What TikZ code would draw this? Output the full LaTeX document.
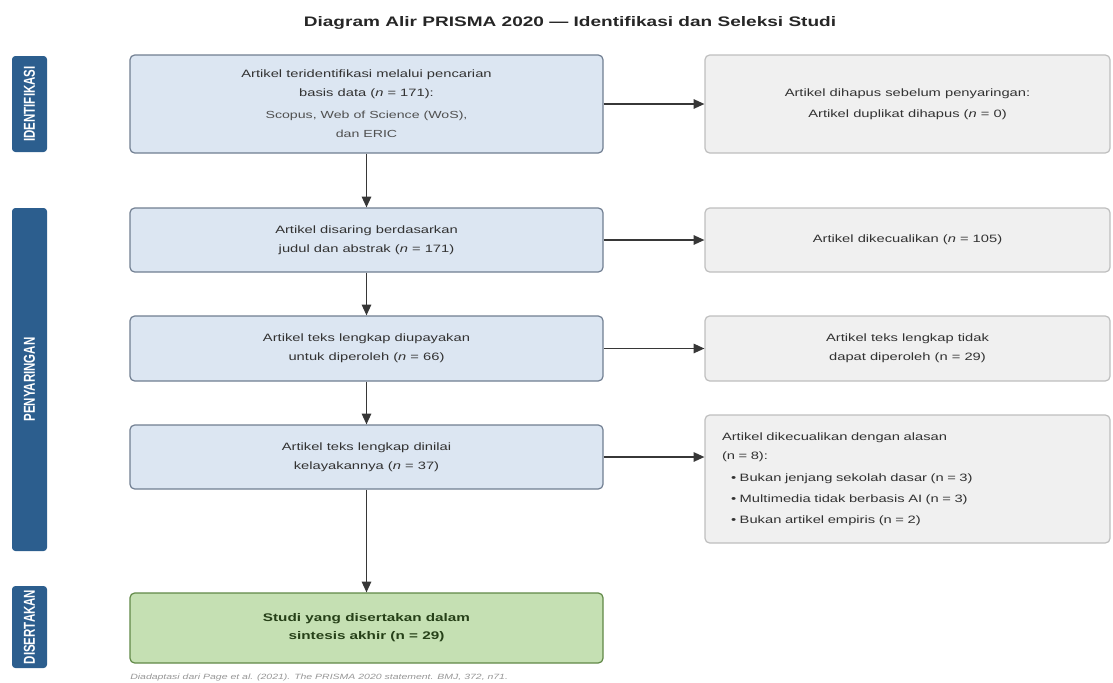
\documentclass[tikz,border=0pt]{standalone}
\usepackage{fontspec}
\setmainfont{Liberation Sans}[FakeStretch=1.38]
\newfontfamily\sidefont{Liberation Sans}
\usepackage{graphicx}
\usetikzlibrary{arrows.meta}
\definecolor{sidebl}{RGB}{44,94,142}
\definecolor{bluefill}{RGB}{220,230,242}
\definecolor{blueborder}{RGB}{112,126,145}
\definecolor{grayfill}{RGB}{240,240,240}
\definecolor{grayborder}{RGB}{190,190,190}
\definecolor{greenfill}{RGB}{197,224,179}
\definecolor{greenborder}{RGB}{96,136,70}
\definecolor{greentext}{RGB}{38,64,24}
\definecolor{txt}{RGB}{50,50,50}
\definecolor{txtgray}{RGB}{80,80,80}
\definecolor{arrcol}{RGB}{55,55,55}
\definecolor{captcol}{RGB}{150,150,150}
\newcommand{\smalltxt}{\fontsize{7.7}{12}\selectfont\color{txtgray}}
\begin{document}
\begin{tikzpicture}[x=0.75pt,y=-0.75pt,
  bluebox/.style={draw=blueborder, fill=bluefill, rounded corners=3.5pt, line width=0.9pt,
    align=center, inner sep=0pt, text=txt, font=\fontsize{8}{14.25}\selectfont},
  graybox/.style={draw=grayborder, fill=grayfill, rounded corners=3.5pt, line width=0.9pt,
    align=center, inner sep=0pt, text=txt, font=\fontsize{8}{14.25}\selectfont},
  greenbox/.style={draw=greenborder, fill=greenfill, rounded corners=3.5pt, line width=0.9pt,
    align=center, inner sep=0pt, text=greentext, font=\bfseries\fontsize{8.3}{13.5}\selectfont},
  sidebar/.style={fill=sidebl, rounded corners=2.5pt, inner sep=0pt, minimum width=26.25pt},
  sidetext/.style={rotate=90, text=white, inner sep=0pt, font=\sidefont\bfseries\fontsize{8.6}{10}\selectfont},
  arr/.style={draw=arrcol, line width=1.1pt, -{Triangle[length=8pt,width=7pt]}},
  wide/.style={minimum width=354.75pt},
  narrow/.style={minimum width=303.75pt}
]
\useasboundingbox (0,0) rectangle (1113,682);

% title
\node[font=\bfseries\fontsize{10.35}{12}\selectfont, text=black!85, inner sep=0pt] (title) at (570,23)
  {Diagram Alir PRISMA 2020 — Identifikasi dan Seleksi Studi};

% side bars
\node[sidebar, minimum height=72pt] (S1) at (29.5,104) {};
\node[sidetext] (S1t) at (S1) {\scalebox{1}[1.38]{IDENTIFIKASI}};
\node[sidebar, minimum height=257.25pt] (S2) at (29.5,379.5) {};
\node[sidetext] (S2t) at (S2) {\scalebox{1}[1.38]{PENYARINGAN}};
\node[sidebar, minimum height=61.5pt] (S3) at (29.5,627) {};
\node[sidetext] (S3t) at (S3) {\scalebox{1}[1.38]{DISERTAKAN}};

% main column
\node[bluebox, wide, minimum height=73.5pt] (A) at (366.5,104)
  {Artikel teridentifikasi melalui pencarian\\basis data (\textit{n} = 171):\\[2.5pt]{\smalltxt Scopus, Web of Science (WoS),}\\{\smalltxt dan ERIC}};
\node[bluebox, wide, minimum height=48pt] (C) at (366.5,240)
  {Artikel disaring berdasarkan\\judul dan abstrak (\textit{n} = 171)};
\node[bluebox, wide, minimum height=48.75pt] (E) at (366.5,348.5)
  {Artikel teks lengkap diupayakan\\untuk diperoleh (\textit{n} = 66)};
\node[bluebox, wide, minimum height=48pt] (G) at (366.5,457)
  {Artikel teks lengkap dinilai\\kelayakannya (\textit{n} = 37)};
\node[greenbox, wide, minimum height=52.5pt] (I) at (366.5,628)
  {Studi yang disertakan dalam\\sintesis akhir (n = 29)};

% right column
\node[graybox, narrow, minimum height=73.5pt] (B) at (907.5,104)
  {Artikel dihapus sebelum penyaringan:\\[1.5pt]Artikel duplikat dihapus (\textit{n} = 0)};
\node[graybox, narrow, minimum height=48pt] (D) at (907.5,240)
  {Artikel dikecualikan (\textit{n} = 105)};
\node[graybox, narrow, minimum height=48.75pt] (F) at (907.5,348.5)
  {Artikel teks lengkap tidak\\dapat diperoleh (n = 29)};
\node[graybox, narrow, minimum height=96pt, align=left, text width=278.25pt, inner xsep=12.75pt] (H) at (907.5,479)
  {Artikel dikecualikan dengan alasan\\(n = 8):\\[2.25pt]
   \hspace*{6.75pt}• Bukan jenjang sekolah dasar (n = 3)\\[1.5pt]
   \hspace*{6.75pt}• Multimedia tidak berbasis AI (n = 3)\\[1.5pt]
   \hspace*{6.75pt}• Bukan artikel empiris (n = 2)};

% caption
\node[anchor=west, inner sep=0pt, text=captcol, font=\itshape\fontsize{5.7}{7}\selectfont] (cap) at (130,678)
  {Diadaptasi dari Page et al. (2021). The PRISMA 2020 statement. BMJ, 372, n71.};

% arrows
\draw[arr] (A.south) -- (C.north);
\draw[arr] (C.south) -- (E.north);
\draw[arr] (E.south) -- (G.north);
\draw[arr] (G.south) -- (I.north);
\draw[arr] (A.east) -- (B.west);
\draw[arr] (C.east) -- (D.west);
\draw[arr] (E.east) -- (F.west);
\draw[arr] (G.east) -- (G.east -| H.west);
\end{tikzpicture}
\end{document}
